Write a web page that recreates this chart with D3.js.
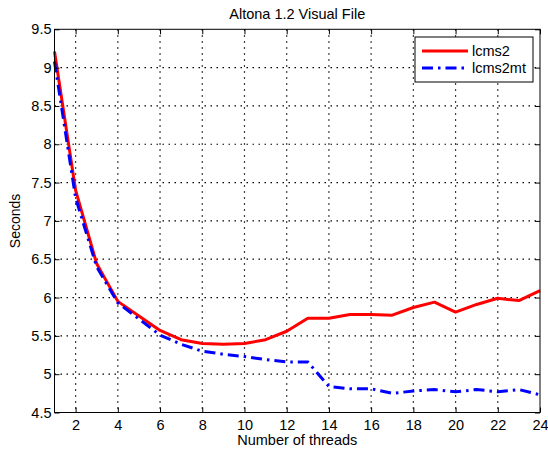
<!DOCTYPE html>
<html><head><meta charset="utf-8">
<script src="https://cdn.jsdelivr.net/npm/d3@7"></script>
<style>body{margin:0;background:#fff;} svg{display:block;font-family:"Liberation Sans",Arial,sans-serif;}</style>
</head><body>
<svg id="c" width="548" height="452"></svg>
<script>
const threads = d3.range(1, 25);
const lcms2 = [9.21,7.40,6.44,5.95,5.76,5.57,5.45,5.40,5.39,5.40,5.45,5.56,5.73,5.73,5.78,5.78,5.77,5.87,5.94,5.81,5.91,5.99,5.96,6.09];
const lcms2mt = [9.08,7.30,6.40,5.93,5.72,5.51,5.39,5.30,5.26,5.23,5.19,5.16,5.16,4.84,4.81,4.81,4.75,4.78,4.80,4.77,4.80,4.77,4.80,4.73];
const xTicks = [2,4,6,8,10,12,14,16,18,20,22,24];
const yTicks = [4.5,5,5.5,6,6.5,7,7.5,8,8.5,9,9.5];
const seriesNames = ["lcms2","lcms2mt"];

const FS = 14.5;
const svg = d3.select("#c");
const L=54.5, R=540, T=29.3, B=412.5;
const x = d3.scaleLinear().domain([1,24]).range([L,R]);
const y = d3.scaleLinear().domain([4.5,9.5]).range([B,T]);

// grid
const g = svg.append("g");
g.selectAll(".gx").data(xTicks.filter(d=>d<24)).enter().append("line")
 .attr("x1",d=>x(d)).attr("x2",d=>x(d)).attr("y1",T).attr("y2",B)
 .attr("stroke","#000").attr("stroke-width",1.2).attr("stroke-dasharray","1.5,4.5");
g.selectAll(".gy").data(yTicks.filter(d=>d>4.5&&d<9.5)).enter().append("line")
 .attr("x1",L).attr("x2",R).attr("y1",d=>y(d)).attr("y2",d=>y(d))
 .attr("stroke","#000").attr("stroke-width",1.2).attr("stroke-dasharray","1.5,4.5");

// lines
const line = (arr)=>d3.line().x((d,i)=>x(threads[i])).y(d=>y(d))(arr);
svg.append("path").attr("d",line(lcms2)).attr("fill","none").attr("stroke","#ff0000").attr("stroke-width",3).attr("stroke-linejoin","round");
svg.append("path").attr("d",line(lcms2mt)).attr("fill","none").attr("stroke","#0000ff").attr("stroke-width",3).attr("stroke-dasharray","11,5,2.5,5");

// axes
const fmt = d=>String(d);
const styleText = a=>{a.selectAll("text").attr("font-size",FS).attr("fill","#000").attr("font-family","Liberation Sans, Arial, sans-serif");};
svg.append("g").attr("transform",`translate(0,${B})`).call(d3.axisBottom(x).tickValues(xTicks).tickFormat(fmt).tickSizeInner(-5).tickSizeOuter(0).tickPadding(7))
 .call(a=>{a.select(".domain").remove();styleText(a);a.selectAll("line").attr("stroke","#000");});
svg.append("g").attr("transform",`translate(0,${T})`).call(d3.axisTop(x).tickValues(xTicks).tickFormat("").tickSizeInner(-5).tickSizeOuter(0))
 .call(a=>{a.select(".domain").remove();a.selectAll("line").attr("stroke","#000");});
svg.append("g").attr("transform",`translate(${L},0)`).call(d3.axisLeft(y).tickValues(yTicks).tickFormat(fmt).tickSizeInner(-5).tickSizeOuter(0).tickPadding(3))
 .call(a=>{a.select(".domain").remove();styleText(a);a.selectAll("line").attr("stroke","#000");});
svg.append("g").attr("transform",`translate(${R},0)`).call(d3.axisRight(y).tickValues(yTicks).tickFormat("").tickSizeInner(-5).tickSizeOuter(0))
 .call(a=>{a.select(".domain").remove();a.selectAll("line").attr("stroke","#000");});
svg.append("rect").attr("x",L).attr("y",T).attr("width",R-L).attr("height",B-T).attr("fill","none").attr("stroke","#000").attr("stroke-width",1);

// labels
svg.append("text").attr("x",(L+R)/2).attr("y",19).attr("text-anchor","middle").attr("font-size",FS).text("Altona 1.2 Visual File");
svg.append("text").attr("x",(L+R)/2).attr("y",445).attr("text-anchor","middle").attr("font-size",FS).text("Number of threads");
svg.append("text").attr("transform",`translate(20,${(T+B)/2}) rotate(-90)`).attr("text-anchor","middle").attr("font-size",14).text("Seconds");

// legend
const lg = svg.append("g");
lg.append("rect").attr("x",415).attr("y",37).attr("width",118).attr("height",45).attr("fill","#fff").attr("stroke","#000").attr("stroke-width",1);
const cols=["#ff0000","#0000ff"], dashes=[null,"11,5,2.5,5"];
seriesNames.forEach((n,i)=>{
  const yy = 51 + i*17;
  lg.append("line").attr("x1",422).attr("x2",468).attr("y1",yy).attr("y2",yy).attr("stroke",cols[i]).attr("stroke-width",3).attr("stroke-dasharray",dashes[i]);
  lg.append("text").attr("x",472).attr("y",yy+5).attr("font-size",FS).text(n);
});
</script>
</body></html>
